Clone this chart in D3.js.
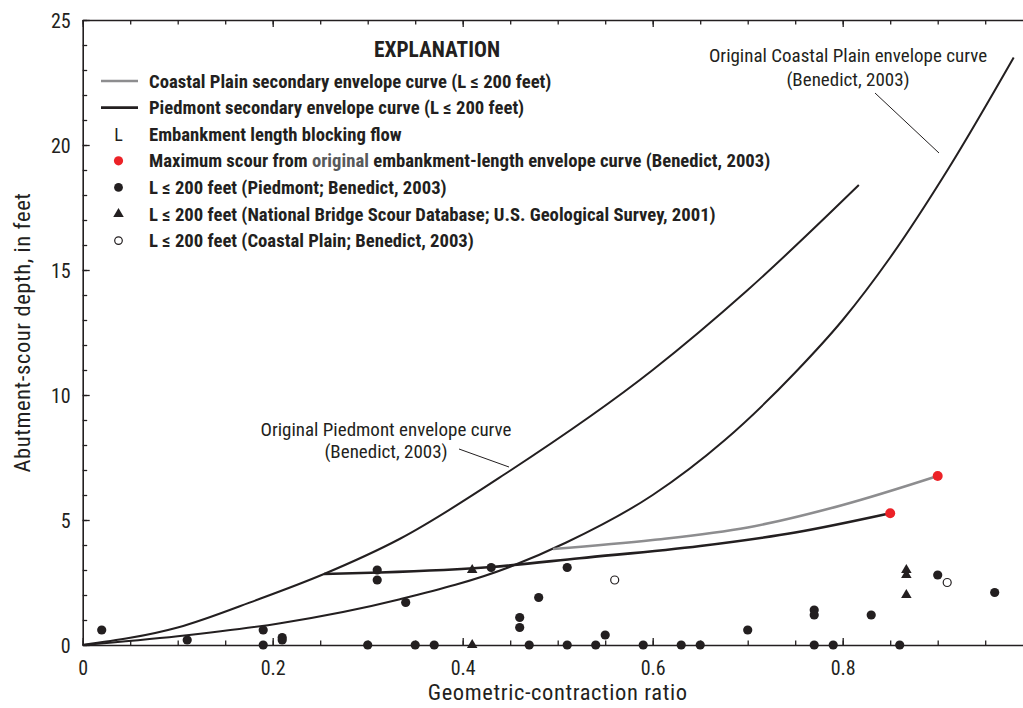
<!DOCTYPE html>
<html><head><meta charset="utf-8">
<script src="https://cdn.jsdelivr.net/npm/d3@7"></script>
<style>
body{margin:0;background:#fff;}
text{font-family:"Liberation Sans Narrow","Roboto Condensed","DejaVu Sans Condensed",sans-serif;font-stretch:condensed;fill:#231f20;}
</style></head><body>
<svg id="chart" width="1023" height="708"></svg>
<script>
// ---- data ----
const piedmontDots = [[0.02,0.6],[0.11,0.2],[0.19,0.6],[0.19,0],[0.21,0.3],[0.21,0.2],[0.30,0],[0.31,3.0],[0.31,2.6],
  [0.34,1.7],[0.35,0],[0.37,0],[0.43,3.1],[0.46,1.1],[0.46,0.7],[0.47,0],[0.48,1.9],[0.51,0],[0.51,3.1],[0.54,0],
  [0.55,0.4],[0.59,0],[0.63,0],[0.65,0],[0.70,0.6],[0.77,1.4],[0.77,1.2],[0.77,0],[0.79,0],[0.83,1.2],[0.86,0],
  [0.90,2.8],[0.96,2.1]];
const nbsdTriangles = [[0.41,3.0],[0.41,0],[0.867,3.0],[0.867,2.8],[0.867,2.0]];
const coastalOpen = [[0.56,2.6],[0.91,2.5]];
const maxScour = [[0.85,5.27],[0.90,6.76]];
const origPiedmontCurve = [[0,0],[0.1,0.7],[0.183,1.8],[0.254,2.84],[0.334,4.25],[0.449,6.95],[0.6,11.0],[0.7,14.2],[0.817,18.4]];
const origCoastalCurve = [[0,0],[0.1,0.35],[0.208,0.87],[0.334,1.83],[0.45,3.13],[0.509,4.1],[0.6,6.0],[0.676,8.2],[0.75,10.9],[0.8,13.0],[0.85,15.5],[0.912,19.1],[0.98,23.5]];
const piedmontSecondary = [[0.254,2.84],[0.313,2.9],[0.43,3.12],[0.523,3.47],[0.65,3.96],[0.75,4.5],[0.85,5.27]];
const coastalSecondary = [[0.495,3.84],[0.6,4.2],[0.7,4.7],[0.8,5.6],[0.90,6.76]];
const xMajorTicks = [0,0.2,0.4,0.6,0.8];
const yMajorTicks = [0,5,10,15,20,25];
const legendLabels = [
  "Coastal Plain secondary envelope curve (L \u2264 200 feet)",
  "Piedmont secondary envelope curve (L \u2264 200 feet)",
  "Embankment length blocking flow",
  "Maximum scour from |original| embankment-length envelope curve (Benedict, 2003)",
  "L \u2264 200 feet (Piedmont; Benedict, 2003)",
  "L \u2264 200 feet (National Bridge Scour Database; U.S. Geological Survey, 2001)",
  "L \u2264 200 feet (Coastal Plain; Benedict, 2003)"
];
const legendSymbols = ["grayline","blackline","L","red","dot","tri","open"];

// ---- drawing ----
const svg = d3.select("#chart");
const x = d3.scaleLinear().domain([0,1]).range([82.7,1032.7]);
const y = d3.scaleLinear().domain([0,25]).range([645,20]);
const ink = "#231f20";

const line = d3.line().x(d=>x(d[0])).y(d=>y(d[1])).curve(d3.curveMonotoneX);

// axes
const xMinor = d3.range(0,1.0001,0.05);
const yMinor = d3.range(0,25.001,1);
function styleAxis(g){ g.selectAll("path,line").attr("stroke",ink).attr("stroke-width",1.3); g.select(".domain").attr("stroke-width",1.6); }
svg.append("g").attr("transform",`translate(0,${y(0)})`)
  .call(d3.axisBottom(x).tickValues(xMinor).tickSize(-4.5).tickSizeOuter(0).tickFormat(""))
  .call(styleAxis);
svg.append("g").attr("transform",`translate(0,${y(0)})`)
  .call(d3.axisBottom(x).tickValues(xMajorTicks).tickSize(-7).tickSizeOuter(0).tickPadding(16).tickFormat(d3.format("")))
  .call(styleAxis).call(g=>g.select(".domain").remove())
  .call(g=>g.selectAll("text").attr("font-size",20).style("fill",ink));
svg.append("g").attr("transform",`translate(0,${y(25)})`)
  .call(d3.axisTop(x).tickValues(xMinor).tickSize(-4.5).tickSizeOuter(0).tickFormat(""))
  .call(styleAxis);
svg.append("g").attr("transform",`translate(0,${y(25)})`)
  .call(d3.axisTop(x).tickValues(xMajorTicks).tickSize(-7).tickSizeOuter(0).tickFormat(""))
  .call(styleAxis).call(g=>g.select(".domain").remove());
svg.append("g").attr("transform",`translate(${x(0)},0)`)
  .call(d3.axisLeft(y).tickValues(yMinor).tickSize(-4.5).tickSizeOuter(0).tickFormat(""))
  .call(styleAxis);
svg.append("g").attr("transform",`translate(${x(0)},0)`)
  .call(d3.axisLeft(y).tickValues(yMajorTicks).tickSize(-7).tickSizeOuter(0).tickPadding(12).tickFormat(d3.format("d")))
  .call(styleAxis).call(g=>g.select(".domain").remove())
  .call(g=>g.selectAll("text").attr("font-size",20).attr("dy","0.36em").style("fill",ink));

// axis titles
svg.append("text").attr("x",x(0.5)).attr("y",700).attr("text-anchor","middle").attr("font-size",22.5).attr("letter-spacing",0.6).text("Geometric-contraction ratio");
svg.append("text").attr("transform",`translate(30,${y(12.5)}) rotate(-90)`).attr("text-anchor","middle").attr("font-size",22.5).attr("letter-spacing",0.6).text("Abutment-scour depth, in feet");

// curves
svg.append("path").datum(origPiedmontCurve).attr("d",line).attr("fill","none").attr("stroke",ink).attr("stroke-width",2);
svg.append("path").datum(origCoastalCurve).attr("d",line).attr("fill","none").attr("stroke",ink).attr("stroke-width",2);
svg.append("path").datum(coastalSecondary).attr("d",line).attr("fill","none").attr("stroke","#8d8d8f").attr("stroke-width",2.6);
svg.append("path").datum(piedmontSecondary).attr("d",line).attr("fill","none").attr("stroke",ink).attr("stroke-width",2.6);

// annotations
svg.append("text").attr("x",386).attr("y",436).attr("text-anchor","middle").attr("font-size",19).text("Original Piedmont envelope curve");
svg.append("text").attr("x",386).attr("y",458).attr("text-anchor","middle").attr("font-size",19).text("(Benedict, 2003)");
svg.append("line").attr("x1",459).attr("y1",449).attr("x2",509).attr("y2",467).attr("stroke",ink).attr("stroke-width",1);
svg.append("text").attr("x",848).attr("y",62).attr("text-anchor","middle").attr("font-size",19).text("Original Coastal Plain envelope curve");
svg.append("text").attr("x",848).attr("y",86).attr("text-anchor","middle").attr("font-size",19).text("(Benedict, 2003)");
svg.append("line").attr("x1",875).attr("y1",93).attr("x2",939).attr("y2",153).attr("stroke",ink).attr("stroke-width",1);

// points
const tri = d3.symbol().type(d3.symbolTriangle).size(48);
svg.append("g").selectAll("circle").data(piedmontDots).join("circle")
  .attr("cx",d=>x(d[0])).attr("cy",d=>y(d[1])).attr("r",4.6).attr("fill",ink);
svg.append("g").selectAll("path").data(nbsdTriangles).join("path")
  .attr("d",tri).attr("transform",d=>`translate(${x(d[0])},${y(d[1])})`).attr("fill",ink);
svg.append("g").selectAll("circle").data(coastalOpen).join("circle")
  .attr("cx",d=>x(d[0])).attr("cy",d=>y(d[1])).attr("r",4).attr("fill","#fff").attr("stroke",ink).attr("stroke-width",1.2);
svg.append("g").selectAll("circle").data(maxScour).join("circle")
  .attr("cx",d=>x(d[0])).attr("cy",d=>y(d[1])).attr("r",5).attr("fill","#ec2227");

// legend
svg.append("text").attr("x",437).attr("y",57).attr("text-anchor","middle").attr("font-size",21.4).attr("font-weight","bold").text("EXPLANATION");
const lg = svg.append("g");
legendLabels.forEach((lab,i)=>{
  const cy = 81 + i*26.6;
  const s = legendSymbols[i];
  if(s==="grayline") lg.append("line").attr("x1",101).attr("x2",138).attr("y1",cy).attr("y2",cy).attr("stroke","#8d8d8f").attr("stroke-width",2.6);
  if(s==="blackline") lg.append("line").attr("x1",101).attr("x2",138).attr("y1",cy).attr("y2",cy).attr("stroke",ink).attr("stroke-width",2.6);
  if(s==="L") lg.append("text").attr("x",118.5).attr("y",cy+6.5).attr("text-anchor","middle").attr("font-size",18).text("L");
  if(s==="red") lg.append("circle").attr("cx",118.5).attr("cy",cy).attr("r",4.6).attr("fill","#ec2227");
  if(s==="dot") lg.append("circle").attr("cx",118.5).attr("cy",cy).attr("r",4.4).attr("fill",ink);
  if(s==="tri") lg.append("path").attr("d",tri).attr("transform",`translate(118.5,${cy})`).attr("fill",ink);
  if(s==="open") lg.append("circle").attr("cx",118.5).attr("cy",cy).attr("r",3.8).attr("fill","#fff").attr("stroke",ink).attr("stroke-width",1.2);
  const t = lg.append("text").attr("x",149).attr("y",cy+6.5).attr("font-size",18.7).attr("font-weight","bold");
  lab.split("|").forEach((part,j)=>{
    t.append("tspan").text(part).style("fill", j===1 ? "#58595b" : ink);
  });
});
</script></body></html>
